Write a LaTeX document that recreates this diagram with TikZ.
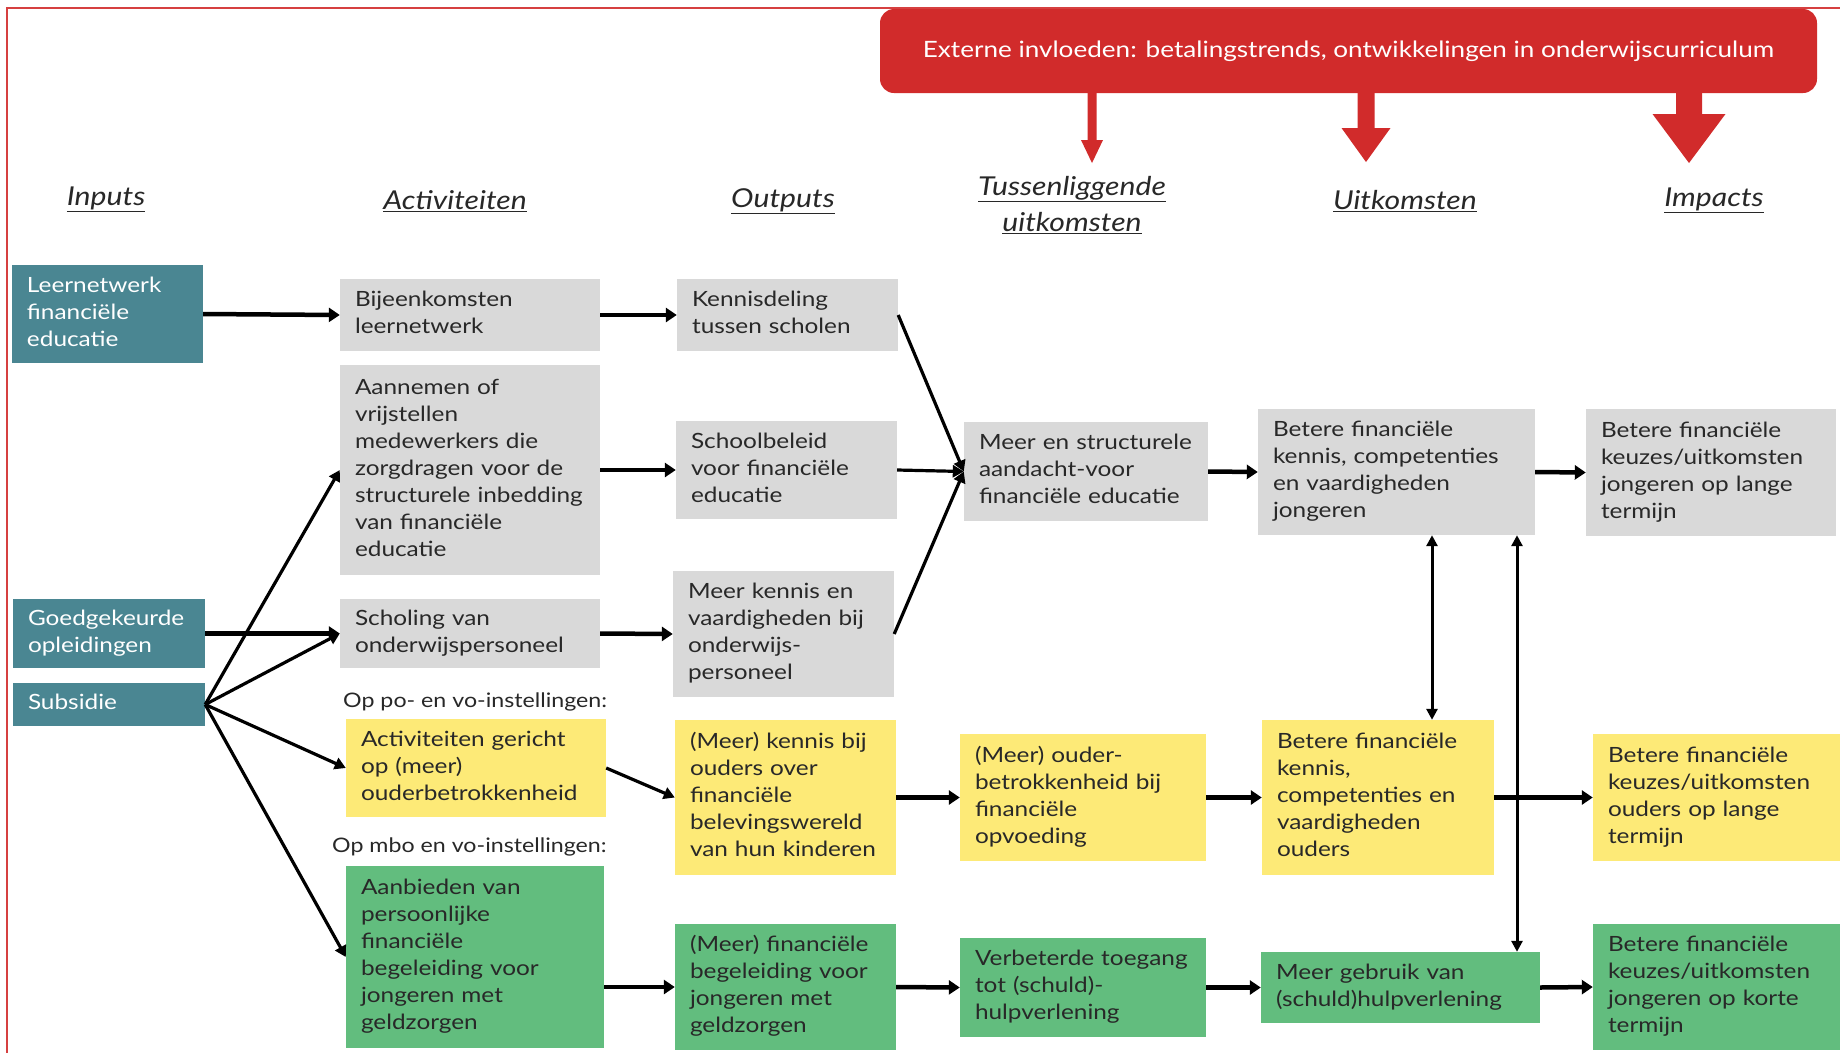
\documentclass[tikz,border=0pt]{standalone}
\usepackage{fontspec}
\setmainfont{Lato}[FakeStretch=1.16]
\usetikzlibrary{arrows.meta}
\definecolor{tealbox}{RGB}{74,134,146}
\definecolor{graybox}{RGB}{217,217,217}
\definecolor{yelbox}{RGB}{253,234,119}
\definecolor{grnbox}{RGB}{98,189,126}
\definecolor{redc}{RGB}{209,43,43}
\definecolor{txtc}{RGB}{40,40,40}
\newcommand{\flowbox}[7]{%
  \pgfmathsetmacro{\fbcx}{(#2+#4)/2}%
  \pgfmathsetmacro{\fbcy}{(#3+#5)/2}%
  \pgfmathsetmacro{\fbw}{#4-#2}%
  \pgfmathsetmacro{\fbh}{#5-#3}%
  \pgfmathsetmacro{\fbtw}{#4-#2-30}%
  \node[basebox,#6,minimum width=\fbw pt,minimum height=\fbh pt,text width=\fbtw pt] (#1) at (\fbcx,\fbcy)
    {\begin{tabular}{@{}l@{}}#7\end{tabular}};}
\tikzset{
  basebox/.style={inner xsep=15pt,inner ysep=0pt,align=left,anchor=center,
    font=\fontsize{21}{27}\selectfont,text=txtc},
  tbox/.style={fill=tealbox,text=white},
  gbox/.style={fill=graybox},
  ybox/.style={fill=yelbox},
  grbox/.style={fill=grnbox},
  hdr/.style={font=\fontsize{26}{36}\selectfont\itshape,align=center,text=txtc},
  lbl/.style={font=\fontsize{20}{24}\selectfont,text=txtc,anchor=west,inner sep=0pt},
  conn/.style={line width=4.5pt,-{Triangle[length=11pt,width=14pt]}},
  thinconn/.style={line width=3.2pt,-{Triangle[length=11pt,width=12pt]}},
  dbl/.style={line width=3pt,{Triangle[length=11pt,width=11pt]}-{Triangle[length=11pt,width=11pt]}},
}
\begin{document}
\begin{tikzpicture}[x=1pt,y=-1pt]
\useasboundingbox (0,0) rectangle (1840,1053);
\fill[white] (0,0) rectangle (1840,1053);
% red frame
\draw[redc!90!white,line width=2pt] (1840,8) -- (7,8) -- (7,1053);
% banner
\node[fill=redc,rounded corners=14pt,minimum width=937pt,minimum height=84pt,inner sep=0pt,
  text=white,font=\fontsize{22.5}{27}\selectfont] (ban) at (1348.5,51)
  {Externe invloeden: betalingstrends, ontwikkelingen in onderwijscurriculum};
% red arrows
\fill[redc] (1087.5,88) -- (1096.5,88) -- (1096.5,140) -- (1103,140) -- (1092,163) -- (1081,140) -- (1087.5,140) -- cycle;
\fill[redc] (1357.5,88) -- (1374.5,88) -- (1374.5,128) -- (1390.5,128) -- (1366,162) -- (1341.5,128) -- (1357.5,128) -- cycle;
\fill[redc] (1676,88) -- (1702,88) -- (1702,114) -- (1725.5,114) -- (1689,163) -- (1652.5,114) -- (1676,114) -- cycle;
% headers
\node[hdr] (hin) at (106,199.5) {\underline{Inputs}};
\node[hdr] (hact) at (455,201.5) {\underline{Activiteiten}};
\node[hdr] (hout) at (783,201.5) {\underline{Outputs}};
\node[hdr] (htus) at (1072,205) {\underline{Tussenliggende}\\\underline{uitkomsten}};
\node[hdr] (huit) at (1405,201.5) {\underline{Uitkomsten}};
\node[hdr] (himp) at (1714,200.5) {\underline{Impacts}};
% inputs
\flowbox{leer}{12}{265}{203}{363}{tbox}{Leernetwerk\\financiële\\educatie}
\flowbox{goed}{13}{599}{205}{668}{tbox}{Goedgekeurde\\opleidingen}
\flowbox{sub}{13}{683}{205}{726}{tbox}{Subsidie}
% activiteiten
\flowbox{bij}{340}{279}{600}{351}{gbox}{Bijeenkomsten\\leernetwerk}
\flowbox{aan}{340}{365}{600}{575}{gbox}{Aannemen of\\vrijstellen\\medewerkers die\\zorgdragen voor de\\structurele inbedding\\van financiële\\educatie}
\flowbox{sch}{340}{599}{600}{668}{gbox}{Scholing van\\onderwijspersoneel}
\node[lbl] (lpo) at (343,702) {Op po- en vo-instellingen:};
\flowbox{agr}{346}{719}{606}{817}{ybox}{Activiteiten gericht\\op (meer)\\ouderbetrokkenheid}
\node[lbl] (lmbo) at (332,847) {Op mbo en vo-instellingen:};
\flowbox{aanb}{346}{866}{604}{1048}{grbox}{Aanbieden van\\persoonlijke\\financiële\\begeleiding voor\\jongeren met\\geldzorgen}
% outputs
\flowbox{kd}{677}{279}{898}{351}{gbox}{Kennisdeling\\tussen scholen}
\flowbox{sb}{676}{421}{897}{519}{gbox}{Schoolbeleid\\voor financiële\\educatie}
\flowbox{mko}{673}{571}{894}{697}{gbox}{Meer kennis en\\vaardigheden bij\\onderwijs-\\personeel}
\flowbox{kbo}{675}{720}{896}{875}{ybox}{(Meer) kennis bij\\ouders over\\financiële\\belevingswereld\\van hun kinderen}
\flowbox{fb}{675}{924}{896}{1050}{grbox}{(Meer) financiële\\begeleiding voor\\jongeren met\\geldzorgen}
% tussenliggende
\flowbox{mes}{964}{422}{1208}{521}{gbox}{Meer en structurele\\aandacht-voor\\financiële educatie}
\flowbox{ob}{960}{734}{1206}{861}{ybox}{(Meer) ouder-\\betrokkenheid bij\\financiële\\opvoeding}
\flowbox{verb}{960}{938}{1206}{1037}{grbox}{Verbeterde toegang\\tot (schuld)-\\hulpverlening}
% uitkomsten
\flowbox{bj}{1258}{409}{1535}{535}{gbox}{Betere financiële\\kennis, competenties\\en vaardigheden\\jongeren}
\flowbox{bo}{1262}{720}{1494}{875}{ybox}{Betere financiële\\kennis,\\competenties en\\vaardigheden\\ouders}
\flowbox{mg}{1261}{952}{1540}{1023}{grbox}{Meer gebruik van\\(schuld)hulpverlening}
% impacts
\flowbox{ij}{1586}{409}{1836}{536}{gbox}{Betere financiële\\keuzes/uitkomsten\\jongeren op lange\\termijn}
\flowbox{io}{1593}{734}{1842}{861}{ybox}{Betere financiële\\keuzes/uitkomsten\\ouders op lange\\termijn}
\flowbox{ik}{1593}{924}{1842}{1050}{grbox}{Betere financiële\\keuzes/uitkomsten\\jongeren op korte\\termijn}
% connectors
\draw[conn] (leer.east) -- (bij.west);
\draw[conn] (bij.east) -- (kd.west);
\draw[conn] (aan.east) -- (sb.west);
\draw[conn] (goed.east) -- (sch.west);
\draw[conn] (sch.east) -- (mko.west);
\draw[thinconn] (sub.east) -- (aan.west);
\draw[thinconn] (sub.east) -- (sch.west);
\draw[thinconn] (sub.east) -- (agr.west);
\draw[thinconn] (sub.east) -- (aanb.west);
\draw[thinconn] (kd.east) -- (mes.west);
\draw[thinconn] (sb.east) -- (mes.west);
\draw[thinconn] (mko.east) -- (mes.west);
\draw[thinconn] (agr.east) -- (kbo.west);
\draw[conn] (aanb.east |- fb.west) -- (fb.west);
\draw[conn] (kbo.east) -- (ob.west);
\draw[conn] (fb.east) -- (verb.west);
\draw[conn] (ob.east) -- (bo.west);
\draw[conn] (verb.east) -- (mg.west);
\draw[conn] (mes.east) -- (bj.west);
\draw[conn] (bj.east) -- (ij.west);
\draw[conn] (bo.east) -- (io.west);
\draw[conn] (mg.east) -- (ik.west);
\coordinate (v1) at (1432,0);
\coordinate (v2) at (1517,0);
\draw[dbl] (bj.south -| v1) -- (bo.north -| v1);
\draw[dbl] (bj.south -| v2) -- (mg.north -| v2);
\end{tikzpicture}
\end{document}
